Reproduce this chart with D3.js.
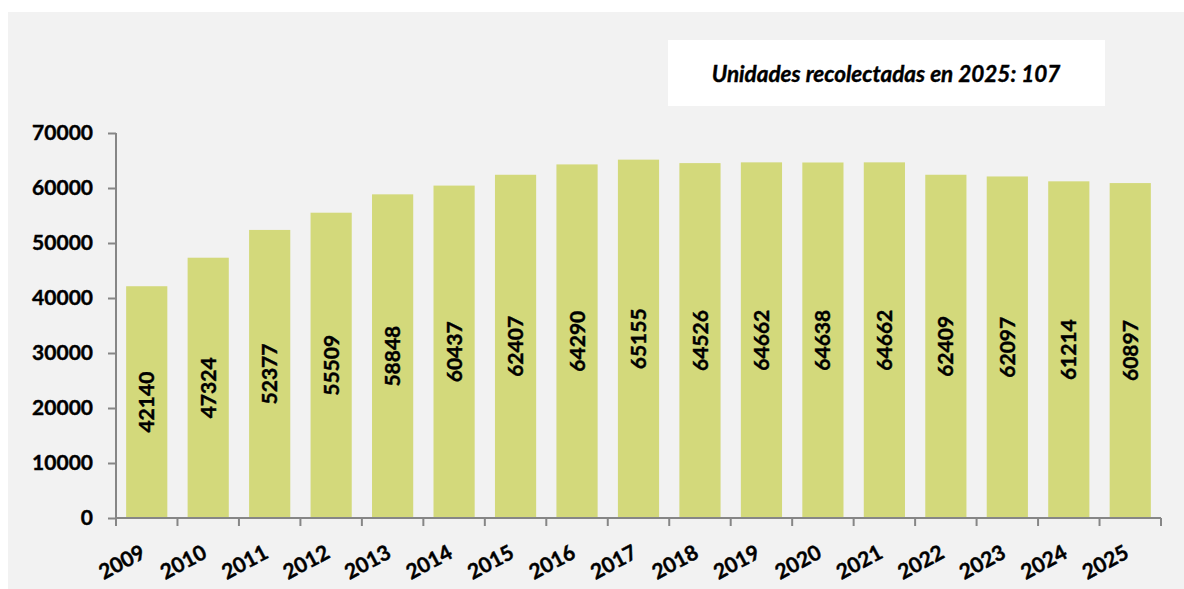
<!DOCTYPE html>
<html>
<head>
<meta charset="utf-8">
<script src="https://cdn.jsdelivr.net/npm/d3@7"></script>
<style>
  html, body { margin: 0; padding: 0; background: #ffffff; }
  svg { display: block; }
  text { font-family: Lato, "Open Sans", sans-serif; stroke: #000; stroke-width: 0.4px; }
</style>
</head>
<body>
<svg id="chart" width="1184" height="589"></svg>
<script>
const years = ["2009","2010","2011","2012","2013","2014","2015","2016","2017","2018","2019","2020","2021","2022","2023","2024","2025"];
const values = [42140,47324,52377,55509,58848,60437,62407,64290,65155,64526,64662,64638,64662,62409,62097,61214,60897];
const yTicks = [0,10000,20000,30000,40000,50000,60000,70000];
const titleText = "Unidades recolectadas en 2025: 107";

(function () {
const svg = d3.select("#chart");
svg.append("rect").attr("x", 8).attr("y", 12).attr("width", 1176).attr("height", 577).attr("fill", "#f2f2f2");

const mLeft = 116, mRight = 1161, mTop = 133, mBottom = 518;
const x = d3.scaleBand().domain(years).range([mLeft, mRight]).paddingInner(0.33).paddingOuter(0.165);
const xt = d3.scaleBand().domain(years).range([mLeft, mRight]);
const y = d3.scaleLinear().domain([0, 70000]).range([mBottom, mTop]);

// bars
svg.append("g").selectAll("rect").data(values).join("rect")
  .attr("x", (d, i) => x(years[i]))
  .attr("y", d => y(d))
  .attr("width", x.bandwidth())
  .attr("height", d => y(0) - y(d))
  .attr("fill", "#d3d97b");

// value labels
svg.append("g").selectAll("text").data(values).join("text")
  .attr("transform", (d, i) => `translate(${x(years[i]) + x.bandwidth() / 2},${(y(d) + y(0)) / 2}) rotate(-90)`)
  .attr("text-anchor", "middle")
  .attr("dy", "0.36em")
  .attr("font-weight", "bold")
  .attr("font-size", 21)
  .attr("fill", "#000")
  .text(d => d);

// y axis
const yAxis = svg.append("g").attr("transform", `translate(${mLeft},0)`)
  .call(d3.axisLeft(y).tickValues(yTicks).tickSize(8).tickPadding(15).tickFormat(d3.format("d")));
yAxis.selectAll("text").attr("font-size", 21).attr("font-weight", "bold").attr("fill", "#000")
  .style("font-family", "Lato, sans-serif");
yAxis.select(".domain").attr("d", `M0,${mTop}V${mBottom + 8}`).attr("stroke", "#868686").attr("stroke-width", 2);
yAxis.selectAll(".tick line").attr("stroke", "#868686").attr("stroke-width", 2);

// x axis
const xAxis = svg.append("g").attr("transform", `translate(0,${mBottom})`);
xAxis.append("path").attr("d", `M${mLeft},0H${mRight}`).attr("stroke", "#868686").attr("stroke-width", 2).attr("fill", "none");
xAxis.selectAll("line.tk").data(years.concat(["end"])).join("line")
  .attr("class", "tk")
  .attr("x1", (d, i) => i < years.length ? xt(d) : mRight)
  .attr("x2", (d, i) => i < years.length ? xt(d) : mRight)
  .attr("y1", 0).attr("y2", 8)
  .attr("stroke", "#868686").attr("stroke-width", 2);
xAxis.selectAll("text").data(years).join("text")
  .attr("transform", d => `translate(${xt(d) + xt.bandwidth() / 2},39) rotate(-28)`)
  .attr("text-anchor", "end")
  .attr("font-size", 21)
  .attr("font-weight", "bold")
  .attr("fill", "#000")
  .text(d => d);

// title box
svg.append("rect").attr("x", 668).attr("y", 40).attr("width", 437).attr("height", 66).attr("fill", "#ffffff");
svg.append("text").attr("x", 886).attr("y", 82)
  .attr("text-anchor", "middle")
  .attr("font-size", 22.5)
  .attr("font-weight", "bold")
  .attr("font-style", "italic")
  .attr("fill", "#000")
  .text(titleText);
})();
</script>
</body>
</html>
